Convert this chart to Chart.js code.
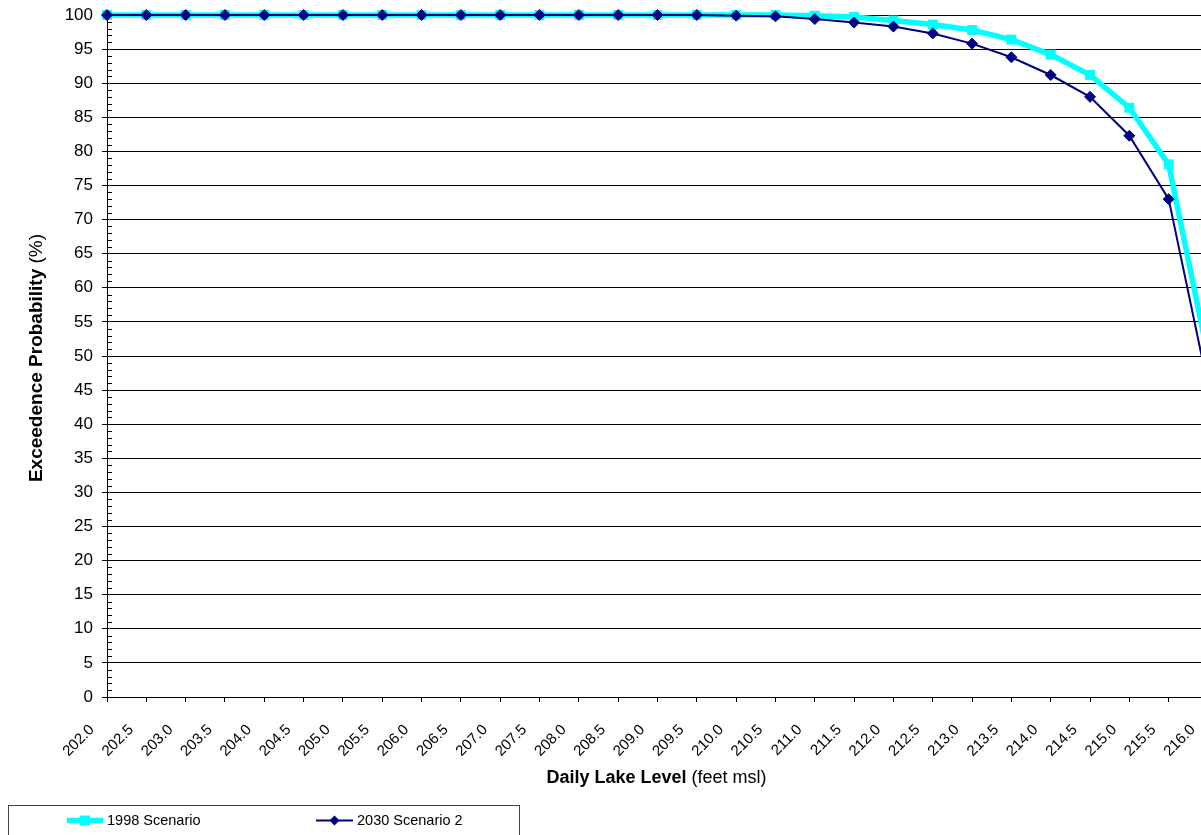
<!DOCTYPE html>
<html>
<head>
<meta charset="utf-8">
<script src="https://cdn.jsdelivr.net/npm/chart.js@4"></script>
<style>
  html, body { margin: 0; padding: 0; background: #fff; overflow: hidden; }
  #wrap { position: absolute; left: 0; top: 0; width: 1215px; height: 835px; }
</style>
</head>
<body>
<div id="wrap"><canvas id="chart" width="1215" height="835"></canvas></div>
<script>
// Daily lake level categories (feet msl)
const lakeLevels = [
  '202.0', '202.5', '203.0', '203.5', '204.0', '204.5', '205.0', '205.5',
  '206.0', '206.5', '207.0', '207.5', '208.0', '208.5', '209.0', '209.5',
  '210.0', '210.5', '211.0', '211.5', '212.0', '212.5', '213.0', '213.5',
  '214.0', '214.5', '215.0', '215.5', '216.0'
];

// Exceedence probability (%) per lake level
const scenario1998 = [
  100, 100, 100, 100, 100, 100, 100, 100,
  100, 100, 100, 100, 100, 100, 100, 100,
  100, 100, 99.9, 99.7, 99.2, 98.6, 97.8, 96.4,
  94.2, 91.2, 86.4, 78.1, 50.0
];
const scenario2030 = [
  100, 100, 100, 100, 100, 100, 100, 100,
  100, 100, 100, 100, 100, 100, 100, 100,
  99.9, 99.8, 99.4, 98.9, 98.3, 97.3, 95.8, 93.8,
  91.2, 88.0, 82.3, 73.0, 45.6
];

const seriesNames = ['1998 Scenario', '2030 Scenario 2'];

// Probability axis range and tick spacing
const yMin = 0, yMax = 100, yMajorStep = 5, yMinorStep = 1;

const FONT = '"Liberation Sans", Arial, sans-serif';
Chart.defaults.font.family = FONT;
Chart.defaults.color = '#000';

// Draws a centred text line made of bold and regular runs
function drawRuns(ctx, runs, x, y, vertical) {
  ctx.save();
  ctx.translate(x, y);
  if (vertical) ctx.rotate(-Math.PI / 2);
  ctx.textAlign = 'left';
  ctx.textBaseline = 'middle';
  ctx.fillStyle = '#000';
  let total = 0;
  runs.forEach(r => { ctx.font = r.font; r.w = ctx.measureText(r.text).width; total += r.w; });
  let cx = -total / 2;
  runs.forEach(r => { ctx.font = r.font; ctx.fillText(r.text, cx, 0); cx += r.w; });
  ctx.restore();
}

const decorations = {
  id: 'decorations',
  afterDraw(chart) {
    const ctx = chart.ctx;
    const ca = chart.chartArea;
    const ys = chart.scales.y;

    // minor tick marks on the inside of the value axis
    ctx.save();
    ctx.strokeStyle = '#000';
    ctx.lineWidth = 1;
    for (let v = yMin; v <= yMax; v += yMinorStep) {
      if (v % yMajorStep === 0) continue;
      const py = Math.round(ys.getPixelForValue(v)) + 0.5;
      ctx.beginPath();
      ctx.moveTo(ca.left, py);
      ctx.lineTo(ca.left + 5, py);
      ctx.stroke();
    }
    ctx.restore();

    // axis titles
    drawRuns(ctx, [
      { text: 'Exceedence Probability', font: 'bold 19px ' + FONT },
      { text: ' (%)', font: '19px ' + FONT }
    ], 37, (ca.top + ca.bottom) / 2 + 2, true);
    drawRuns(ctx, [
      { text: 'Daily Lake Level', font: 'bold 18px ' + FONT },
      { text: ' (feet msl)', font: '18px ' + FONT }
    ], (ca.left + ca.right) / 2 - 1, 778, false);

    // legend box
    ctx.save();
    ctx.strokeStyle = '#404040';
    ctx.lineWidth = 1;
    ctx.strokeRect(8.5, 805.5, 511, 60);
    const ds = chart.data.datasets;
    const ly = 820.5;
    // 1998 sample
    ctx.strokeStyle = ds[0].borderColor;
    ctx.lineWidth = ds[0].borderWidth;
    ctx.beginPath(); ctx.moveTo(67, ly); ctx.lineTo(103, ly); ctx.stroke();
    ctx.fillStyle = ds[0].pointBackgroundColor;
    ctx.fillRect(80, ly - 5, 10, 10);
    // 2030 sample
    ctx.strokeStyle = ds[1].borderColor;
    ctx.lineWidth = ds[1].borderWidth;
    ctx.beginPath(); ctx.moveTo(316, ly); ctx.lineTo(353, ly); ctx.stroke();
    ctx.fillStyle = ds[1].pointBackgroundColor;
    ctx.beginPath();
    ctx.moveTo(334.5, ly - 5); ctx.lineTo(339.5, ly); ctx.lineTo(334.5, ly + 5); ctx.lineTo(329.5, ly);
    ctx.closePath(); ctx.fill();
    ctx.fillStyle = '#000';
    ctx.font = '14.5px ' + FONT;
    ctx.textAlign = 'left';
    ctx.textBaseline = 'middle';
    ctx.fillText(ds[0].label, 107, ly);
    ctx.fillText(ds[1].label, 357, ly);
    ctx.restore();
  }
};

new Chart(document.getElementById('chart'), {
  type: 'line',
  data: {
    labels: lakeLevels,
    datasets: [
      {
        label: seriesNames[0],
        data: scenario1998,
        borderColor: '#00FFFF',
        backgroundColor: '#00FFFF',
        pointBackgroundColor: '#00FFFF',
        pointBorderColor: '#00FFFF',
        borderWidth: 5.5,
        pointStyle: 'rect',
        pointRadius: 7,
        pointBorderWidth: 0,
        tension: 0,
        clip: false,
        order: 1
      },
      {
        label: seriesNames[1],
        data: scenario2030,
        borderColor: '#000080',
        backgroundColor: '#000080',
        pointBackgroundColor: '#000080',
        pointBorderColor: '#000080',
        borderWidth: 2,
        pointStyle: 'rectRot',
        pointRadius: 5.5,
        pointBorderWidth: 1,
        tension: 0,
        clip: false,
        order: 0
      }
    ]
  },
  options: {
    responsive: false,
    animation: false,
    devicePixelRatio: 1,
    layout: { padding: { top: 15, right: 5, left: 0, bottom: 0 } },
    plugins: {
      legend: { display: false },
      tooltip: { enabled: false },
      title: { display: false }
    },
    scales: {
      x: {
        type: 'category',
        offset: false,
        grid: { drawOnChartArea: false, drawTicks: true, tickLength: 5, color: '#000', lineWidth: 1 },
        border: { display: true, color: '#000', width: 1 },
        ticks: {
          autoSkip: false,
          maxRotation: 45,
          minRotation: 45,
          color: '#000',
          font: { size: 15 },
          padding: 19,
          labelOffset: -15
        },
        afterFit(s) { s.height = 138; s.paddingLeft = 0; s.paddingRight = 0; }
      },
      y: {
        min: yMin,
        max: yMax,
        grid: { color: '#000', lineWidth: 1, drawTicks: true, tickLength: 5 },
        border: { display: true, color: '#000', width: 1 },
        ticks: { stepSize: yMajorStep, color: '#000', font: { size: 17 }, padding: 9 },
        afterFit(s) { s.width = 107; s.paddingTop = 0; s.paddingBottom = 0; }
      }
    }
  },
  plugins: [decorations]
});
</script>
</body>
</html>
